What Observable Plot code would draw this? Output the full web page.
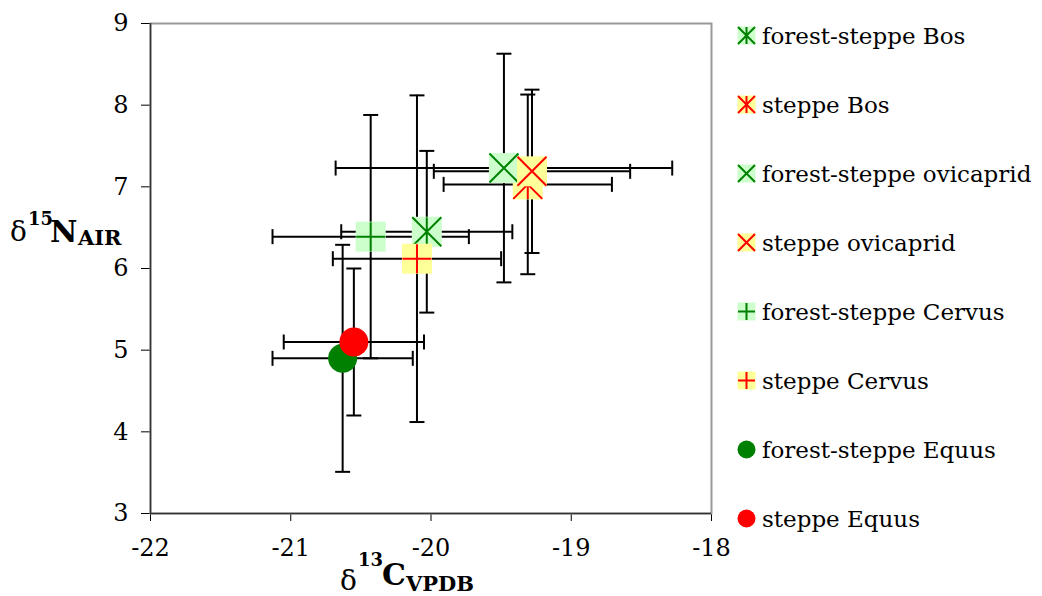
<!DOCTYPE html>
<html>
<head>
<meta charset="utf-8">
<script src="https://cdn.jsdelivr.net/npm/d3@7"></script>
<script src="https://cdn.jsdelivr.net/npm/@observablehq/plot@0.6"></script>
<style>
  html, body { margin: 0; padding: 0; background: #fff; }
  #chart { position: relative; width: 1042px; height: 596px; overflow: hidden; }
  #plot { position: absolute; left: 0; top: 0; }
  #legend { position: absolute; left: 720px; top: 0; }
</style>
</head>
<body>
<div id="chart">
  <div id="plot"></div>
  <svg id="legend" width="322" height="596"></svg>
</div>
<script>
// Mean isotope values (with one standard deviation) per habitat and taxon
const groups  = ["forest-steppe Bos", "steppe Bos", "forest-steppe ovicaprid", "steppe ovicaprid",
                 "forest-steppe Cervus", "steppe Cervus", "forest-steppe Equus", "steppe Equus"];
const habitat = ["forest-steppe", "steppe", "forest-steppe", "steppe",
                 "forest-steppe", "steppe", "forest-steppe", "steppe"];
const taxon   = ["Bos", "Bos", "ovicaprid", "ovicaprid", "Cervus", "Cervus", "Equus", "Equus"];
const d13C    = [-20.03, -19.31, -19.48, -19.28, -20.43, -20.10, -20.63, -20.55];
const d15N    = [6.45, 7.03, 7.23, 7.19, 6.39, 6.12, 4.90, 5.10];
const sdC     = [0.61, 0.60, 1.20, 0.70, 0.70, 0.60, 0.50, 0.50];
const sdN     = [0.99, 1.10, 1.40, 1.00, 1.49, 2.00, 1.39, 0.90];
const xTicks  = [-22, -21, -20, -19, -18];
const yTicks  = [3, 4, 5, 6, 7, 8, 9];

const palette = {
  "forest-steppe": {line: "#008000", box: "#CCFFCC"},
  "steppe":        {line: "#FF0000", box: "#FFFF99"}
};

// Symbol shapes: r is the half-width in pixels (Plot passes size = πr²)
const half = s => Math.sqrt(s / Math.PI);
const symSquare = {draw(c, s) { const r = half(s); c.rect(-r, -r, 2 * r, 2 * r); }};
const symTimes  = {draw(c, s) { const r = half(s); c.moveTo(-r, -r); c.lineTo(r, r); c.moveTo(-r, r); c.lineTo(r, -r); }};
const symPlus   = {draw(c, s) { const r = half(s); c.moveTo(-r, 0); c.lineTo(r, 0); c.moveTo(0, -r); c.lineTo(0, r); }};
const symStar   = {draw(c, s) { const r = half(s); symTimes.draw(c, s); c.moveTo(0, -r); c.lineTo(0, r); }};
const symCapV   = {draw(c, s) { const r = half(s); c.moveTo(0, -r); c.lineTo(0, r); }};
const symCapH   = {draw(c, s) { const r = half(s); c.moveTo(-r, 0); c.lineTo(r, 0); }};
const glyph = {Bos: symStar, ovicaprid: symTimes, Cervus: symPlus};

const rows = groups.map((g, i) => ({
  group: g, habitat: habitat[i], taxon: taxon[i],
  x: d13C[i], y: d15N[i], sx: sdC[i], sy: sdN[i]
}));

const bar = {stroke: "#000", strokeWidth: 2};
const cap = {stroke: "#000", strokeWidth: 2, fill: "none", r: 7.5};

const marks = [
  Plot.frame({stroke: "#999", strokeWidth: 2}),
  Plot.ruleX([-22], {stroke: "#333", strokeWidth: 1.5}),
  Plot.ruleY([3], {stroke: "#333", strokeWidth: 1.5}),
  // error bars
  Plot.ruleY(rows, {y: "y", x1: d => d.x - d.sx, x2: d => d.x + d.sx, ...bar}),
  Plot.ruleX(rows, {x: "x", y1: d => d.y - d.sy, y2: d => d.y + d.sy, ...bar}),
  Plot.dot(rows, {x: d => d.x - d.sx, y: "y", symbol: symCapV, ...cap}),
  Plot.dot(rows, {x: d => d.x + d.sx, y: "y", symbol: symCapV, ...cap}),
  Plot.dot(rows, {x: "x", y: d => d.y - d.sy, symbol: symCapH, ...cap}),
  Plot.dot(rows, {x: "x", y: d => d.y + d.sy, symbol: symCapH, ...cap})
];

// markers, one series after another so later series sit on top
rows.forEach(d => {
  const col = palette[d.habitat];
  if (d.taxon === "Equus") {
    marks.push(Plot.dot([d], {x: "x", y: "y", r: 14.5, symbol: "circle", fill: col.line, stroke: "none"}));
  } else {
    marks.push(Plot.dot([d], {x: "x", y: "y", r: 15, symbol: symSquare, fill: col.box, stroke: "none"}));
    marks.push(Plot.dot([d], {x: "x", y: "y", r: 14.5, symbol: glyph[d.taxon], stroke: col.line, strokeWidth: 2, fill: "none"}));
  }
});

const svg = Plot.plot({
  width: 740,
  height: 596,
  marginLeft: 150,
  marginRight: 29,
  marginTop: 23,
  marginBottom: 83,
  style: {fontFamily: "'DejaVu Serif', serif", fontSize: "24px", color: "#000", background: "transparent"},
  x: {domain: [-22, -18], ticks: xTicks, tickFormat: d => String(d), tickSize: 8, tickPadding: 17, label: null},
  y: {domain: [3, 9], ticks: yTicks, tickFormat: d => String(d), tickSize: 9, tickPadding: 13, label: null},
  marks
});
document.getElementById("plot").appendChild(svg);

// Axis titles with super- and subscripts, each piece placed on its own
const root = d3.select(svg);
const font = "'DejaVu Serif', serif";
function title(parts) {
  for (const p of parts) {
    root.append("text")
      .attr("x", p.x).attr("y", p.y)
      .attr("text-anchor", "start")
      .style("font-family", font)
      .style("font-size", p.size + "px")
      .style("font-weight", p.bold ? "bold" : "normal")
      .attr("fill", "#000")
      .text(p.text);
  }
}
title([
  {text: "δ",    x: 340, y: 590, size: 28},
  {text: "13",   x: 358, y: 566, size: 18, bold: true},
  {text: "C",    x: 382, y: 585, size: 30, bold: true},
  {text: "VPDB", x: 406, y: 591, size: 21, bold: true}
]);
title([
  {text: "δ",    x: 10, y: 241, size: 28},
  {text: "15",   x: 28, y: 225, size: 18, bold: true},
  {text: "N",    x: 50, y: 242, size: 30, bold: true},
  {text: "AIR",  x: 78, y: 245, size: 21, bold: true}
]);

// Legend
const lg = d3.select("#legend");
rows.forEach((d, i) => {
  const base = 44 + 69 * i;
  const col = palette[d.habitat];
  const g = lg.append("g").attr("transform", `translate(26.5,${base - 8.5})`);
  if (d.taxon === "Equus") {
    g.append("circle").attr("r", 9).attr("fill", col.line);
  } else {
    g.append("path").attr("d", d3.symbol(symSquare, 81 * Math.PI)()).attr("fill", col.box);
    g.append("path").attr("d", d3.symbol(glyph[d.taxon], 72 * Math.PI)())
      .attr("fill", "none").attr("stroke", col.line).attr("stroke-width", 2);
  }
  lg.append("text").attr("x", 42).attr("y", base)
    .style("font-family", font).style("font-size", "23px").attr("fill", "#000")
    .text(d.group);
});
</script>
</body>
</html>
